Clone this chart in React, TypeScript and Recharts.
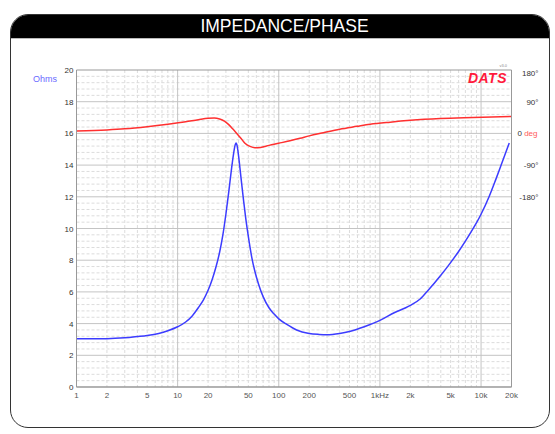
import React from "react";
import {
  LineChart,
  Line,
  XAxis,
  YAxis,
  CartesianGrid,
  ReferenceArea,
} from "recharts";

// impedance (ohms) vs frequency (Hz)
const impFreq = [1, 1.5, 2, 3, 4, 5, 6.5, 8, 10, 12, 14, 16, 18, 20, 22, 24, 26, 28, 30, 32, 34, 35.5, 36.8, 37.8, 38.8, 40, 41.5, 43, 45, 47, 50, 54, 58, 63, 70, 80, 90, 100, 120, 150, 200, 250, 300, 400, 500, 700, 1000, 1400, 1800, 2000, 2500, 3000, 4000, 5000, 6000, 7000, 8000, 9000, 10000, 12000, 14000, 16000, 19000];
const impOhms = [3.05, 3.05, 3.05, 3.1, 3.18, 3.25, 3.38, 3.55, 3.8, 4.1, 4.5, 5.0, 5.5, 6.1, 6.8, 7.6, 8.5, 9.6, 10.9, 12.3, 13.7, 14.6, 15.2, 15.4, 15.2, 14.6, 13.7, 12.8, 11.7, 10.7, 9.5, 8.2, 7.3, 6.5, 5.7, 5.0, 4.6, 4.3, 3.95, 3.6, 3.38, 3.32, 3.3, 3.38, 3.5, 3.8, 4.2, 4.7, 5.0, 5.15, 5.55, 6.1, 7.05, 7.85, 8.55, 9.2, 9.8, 10.35, 10.9, 12.0, 13.1, 14.1, 15.4];

// phase (degrees) vs frequency (Hz)
const phaseFreq = [1, 2, 3, 5, 8, 12, 16, 20, 23, 26, 29, 32, 35, 38.4, 42, 46, 52, 58, 66, 80, 100, 129, 162, 200, 276, 400, 591, 800, 1262, 2000, 3940, 8350, 20000];
const phaseDeg = [7, 10, 13, 19, 26, 33, 39, 43, 43.5, 41, 35, 25, 13, 0, -13, -27, -37, -41, -40, -34, -28, -21, -14, -7, 2, 12, 20, 26, 32, 37, 42, 45, 48];

const xTicks = [1, 2, 5, 10, 20, 50, 100, 200, 500, 1000, 2000, 5000, 10000, 20000];
const xTickLabels = ["1", "2", "5", "10", "20", "50", "100", "200", "500", "1kHz", "2k", "5k", "10k", "20k"];
const ohmTicks = [0, 2, 4, 6, 8, 10, 12, 14, 16, 18, 20];
const phaseTicks = [180, 90, 0, -90, -180];
const phaseTickLabels = ["180°", "90°", "0", "-90°", "-180°"];

const majorX = [10, 100, 1000, 10000];
const minorX: number[] = [];
[1, 10, 100, 1000, 10000].forEach((d) => {
  for (let m = 2; m <= 9; m++) if (d * m < 20000) minorX.push(d * m);
});
const majorY = [2, 4, 6, 8, 10, 12, 14, 16, 18];
const minorY: number[] = [];
for (let i = 1; i < 50; i++) if (i % 5 !== 0) minorY.push(i * 0.4);

const impData = impFreq.map((f, i) => ({ f, z: impOhms[i] }));
const phaseData = phaseFreq.map((f, i) => ({ f, p: phaseDeg[i] }));

const font = "'Liberation Sans', Arial, sans-serif";

const XTick = ({ x, y, payload }: any) => {
  const i = xTicks.indexOf(payload.value);
  return (
    <text x={x} y={y} dy={11} textAnchor="middle" fontSize={8} fill="#555" fontFamily={font}>
      {xTickLabels[i]}
    </text>
  );
};

const OhmTick = ({ x, y, payload }: any) => (
  <text x={x} y={y} dy={3} textAnchor="end" fontSize={8} fill="#333" fontFamily={font}>
    {payload.value}
  </text>
);

const PhaseTick = ({ x, y, payload }: any) => {
  const i = phaseTicks.indexOf(payload.value);
  if (payload.value === 0) {
    return (
      <text x={x + 3} y={y} dy={3} fontSize={8} fill="#333" fontFamily={font}>
        0 <tspan fill="#ff5a5a">deg</tspan>
      </text>
    );
  }
  return (
    <text x={x + 24} y={y} dy={payload.value === 180 ? 6 : 3} textAnchor="end" fontSize={8} fill="#333" fontFamily={font}>
      {phaseTickLabels[i]}
    </text>
  );
};

export default function App() {
  return (
    <div style={{ position: "absolute", left: 0, top: 0, width: 555, height: 434, background: "#fff", fontFamily: font }}>
      <div
        style={{
          position: "absolute",
          left: 10,
          top: 14,
          width: 540,
          height: 414,
          border: "1.5px solid #333",
          borderRadius: 18,
          overflow: "hidden",
          boxSizing: "border-box",
        }}
      >
        <div
          style={{
            height: 23,
            background: "#000",
            color: "#fff",
            fontSize: 17.5,
            textAlign: "center",
            lineHeight: "23px",
            paddingLeft: 9,
            borderBottom: "1px solid #bbb",
          }}
        >
          IMPEDANCE/PHASE
        </div>
      </div>
      <div style={{ position: "absolute", left: 0, top: 0 }}>
        <LineChart width={555} height={434} margin={{ top: 70, right: 0, bottom: 0, left: 0 }}>
          <CartesianGrid yAxisId="z" stroke="#dcdcdc" strokeDasharray="3 2" verticalValues={minorX} horizontalValues={minorY} />
          <CartesianGrid yAxisId="z" stroke="#c4c4c4" verticalValues={majorX} horizontalValues={majorY} />
          <XAxis
            dataKey="f"
            type="number"
            scale="log"
            domain={[1, 20000]}
            allowDataOverflow
            ticks={xTicks}
            interval={0}
            tick={<XTick />}
            tickLine={false}
            tickSize={0}
            tickMargin={0}
            axisLine={{ stroke: "#999" }}
            height={47}
          />
          <YAxis
            yAxisId="z"
            type="number"
            domain={[0, 20]}
            ticks={ohmTicks}
            interval={0}
            tick={<OhmTick />}
            tickLine={false}
            tickSize={0}
            tickMargin={3}
            axisLine={{ stroke: "#999" }}
            width={76.5}
          />
          <YAxis
            yAxisId="p"
            orientation="right"
            type="number"
            domain={[-720, 180]}
            ticks={phaseTicks}
            interval={0}
            tick={<PhaseTick />}
            tickLine={false}
            tickSize={0}
            tickMargin={3}
            axisLine={{ stroke: "#999" }}
            width={43.5}
          />
          <ReferenceArea yAxisId="z" x1={1} x2={20000} y1={0} y2={20} fill="none" stroke="#999" strokeWidth={1} />
          <Line
            yAxisId="p"
            data={phaseData}
            dataKey="p"
            type="monotone"
            stroke="#ff3030"
            strokeWidth={1.5}
            dot={false}
            isAnimationActive={false}
          />
          <Line
            yAxisId="z"
            data={impData}
            dataKey="z"
            type="monotone"
            stroke="#3c3cff"
            strokeWidth={1.5}
            dot={false}
            isAnimationActive={false}
          />
          <text x={33} y={82} fontSize={9} fill="#6a6aff" fontFamily={font}>Ohms</text>
          <text x={507} y={83} textAnchor="end" fontSize={14} fontWeight="bold" fontStyle="italic" fill="#ff1a3c" fontFamily={font} letterSpacing={0.5}>DATS</text>
          <text x={507} y={67} textAnchor="end" fontSize={4} fill="#888" fontFamily={font}>v3.0</text>
        </LineChart>
      </div>
    </div>
  );
}
